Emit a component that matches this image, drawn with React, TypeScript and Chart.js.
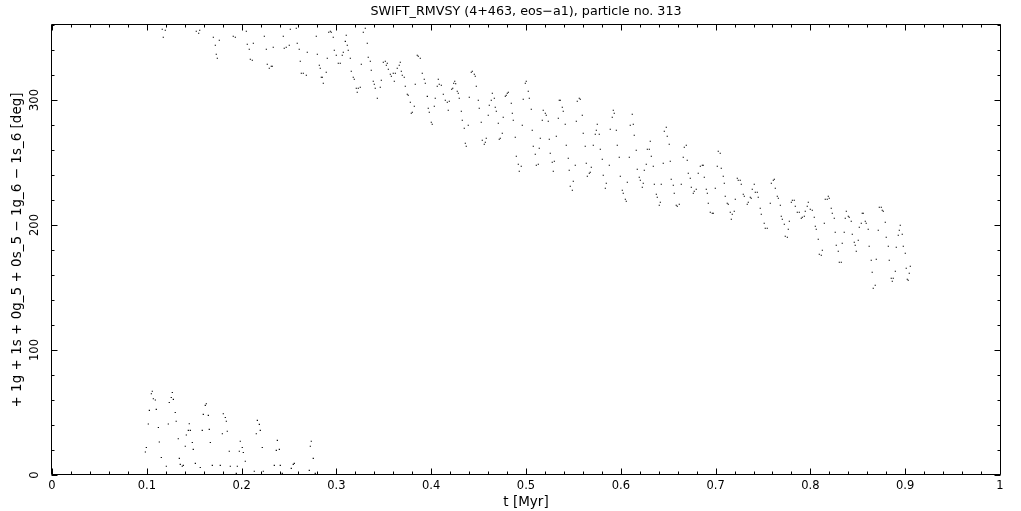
import React, { useEffect, useRef } from 'react';
import { Chart, registerables } from 'chart.js';

Chart.register(...registerables);

const chartTitle = 'SWIFT_RMVSY (4+463, eos\u2212a1), particle no. 313';
const xAxisTitle = 't [Myr]';
const yAxisTitle = '+ 1g + 1s + 0g_5 + 0s_5 \u2212 1g_6 \u2212 1s_6 [deg]';

const xTickValues = [0, 0.1, 0.2, 0.3, 0.4, 0.5, 0.6, 0.7, 0.8, 0.9, 1];
const xTickLabels = ['0', '0.1', '0.2', '0.3', '0.4', '0.5', '0.6', '0.7', '0.8', '0.9', '1'];
const yTickValues = [0, 100, 200, 300];
const yTickLabels = ['0', '100', '200', '300'];

// [t (Myr), angle (deg)] — part of the track that wrapped past 360 deg
const lowBand: [number, number][] = [
  [0.0985, 18.4], [0.0995, 22], [0.1016, 40.8], [0.1027, 51.7], [0.1048, 65], [0.1058, 67], [0.1069, 61], [0.109, 60],
  [0.11, 52.5], [0.1122, 38], [0.1132, 26.4], [0.1153, 14], [0.1206, 7], [0.1227, 40.8], [0.1237, 58], [0.1258, 62],
  [0.1269, 66], [0.128, 60.5], [0.13, 50], [0.131, 43], [0.1332, 29], [0.1343, 13.3], [0.1353, 8.5], [0.1374, 7],
  [0.1385, 7.7], [0.1406, 23], [0.1417, 32], [0.1438, 35.7], [0.1448, 41], [0.1459, 35.7], [0.148, 26], [0.149, 20.5],
  [0.1512, 9.3], [0.1564, 6], [0.1585, 35.7], [0.1596, 48.5], [0.1617, 55.7], [0.1628, 57], [0.1649, 47.7], [0.1659, 36.5],
  [0.167, 26], [0.1691, 7.7], [0.1775, 7.7], [0.1797, 33], [0.1807, 49], [0.1828, 46], [0.1839, 43], [0.1849, 35],
  [0.187, 19], [0.1881, 7], [0.1944, 1.3], [0.1955, 7], [0.1976, 19], [0.1986, 27], [0.2007, 22], [0.2018, 18],
  [0.2039, 11], [0.2134, 3], [0.2155, 33], [0.2166, 43.7], [0.2187, 40.5], [0.2197, 35.7], [0.2218, 22], [0.2229, 3],
  [0.2345, 7.7], [0.2366, 19.7], [0.2377, 27.7], [0.2398, 20.5], [0.2408, 7.7], [0.2429, 1.3], [0.2524, 5.3], [0.2545, 8.5],
  [0.2556, 9.3], [0.2714, 3.7], [0.2725, 23], [0.2735, 27], [0.2756, 13.3], [0.2777, 1.3],
];

// [t (Myr), angle (deg)] — main descending band
const highBandEarly: [number, number][] = [
  [0.1163, 356.6], [0.1174, 350.2], [0.1195, 355.8], [0.1522, 355], [0.1547, 353.4], [0.1558, 355.8],
  [0.1702, 350.2], [0.1723, 343.8], [0.1733, 336.6], [0.1744, 333.4], [0.1765, 347.8], [0.1912, 351], [0.1934, 350.2],
  [0.205, 355], [0.206, 344.6], [0.2081, 340.6], [0.2092, 332.6], [0.2113, 331.8], [0.2124, 345.4],
  [0.224, 351], [0.2261, 340.6], [0.2271, 328.6], [0.2292, 325.4], [0.2313, 327], [0.2324, 327], [0.2334, 342.2],
  [0.244, 351], [0.245, 341.4], [0.2471, 342.2], [0.2503, 343.8], [0.2514, 356.6],
  [0.2577, 357.4], [0.2587, 345.4], [0.2608, 340.6], [0.2619, 331], [0.263, 321.4], [0.2651, 321.4], [0.2683, 319.8], [0.2693, 338.2],
  [0.2788, 351], [0.2799, 336.6], [0.282, 327.8], [0.283, 325.4], [0.2841, 318.2], [0.2852, 318.2], [0.2862, 313.4],
  [0.2893, 322.2], [0.2904, 333.4], [0.2919, 354.2], [0.2936, 355], [0.2946, 354.2], [0.2967, 350.2], [0.2978, 339.8],
  [0.2999, 335.8], [0.302, 329.4], [0.3041, 329.4], [0.3062, 335.8], [0.3073, 338.2], [0.3094, 346.9], [0.3104, 351.8],
  [0.3115, 343.8], [0.3125, 339.8], [0.3147, 333.4], [0.3157, 323], [0.3178, 318.2], [0.3189, 316.6], [0.321, 309.4],
  [0.322, 306.2], [0.3231, 309.4], [0.3252, 310.2], [0.3263, 328.6], [0.3284, 354.2], [0.3305, 357.4], [0.3326, 345.4],
  [0.3336, 334.2], [0.3358, 331], [0.3368, 323.8], [0.3389, 315], [0.34, 312.6], [0.341, 309.4], [0.3432, 301.4],
  [0.3463, 310.2], [0.3474, 315.8], [0.3495, 330.2], [0.3516, 331], [0.3527, 327.8], [0.3537, 329.4], [0.3548, 324.6],
  [0.3569, 320.6], [0.358, 319], [0.36, 321.4], [0.3611, 315], [0.3622, 321.4], [0.3642, 325.4], [0.3663, 327.8],
  [0.3674, 330.2], [0.3685, 323], [0.3695, 319.8], [0.3716, 318.2], [0.3727, 311], [0.3748, 304.6], [0.3758, 303.8],
  [0.378, 298.2], [0.379, 289.4], [0.3801, 290.2], [0.3822, 295], [0.3832, 312.6], [0.3853, 335.8], [0.3864, 335],
  [0.3885, 333.4], [0.3906, 321.4], [0.3927, 316.6], [0.3938, 313.4], [0.3959, 302.9], [0.3969, 293.4], [0.398, 290.2],
  [0.4001, 282.2], [0.4011, 280.6], [0.4033, 295], [0.4043, 301.4], [0.4064, 311], [0.4075, 316.6], [0.4085, 312.6],
  [0.4107, 311.8], [0.4128, 304.6], [0.4149, 299.8], [0.417, 298.2], [0.418, 291.8], [0.4191, 299],
];

const highBandMiddle: [number, number][] = [
  [0.4216, 308.6], [0.4227, 309.4], [0.4237, 313.4], [0.4248, 315], [0.4258, 313], [0.4275, 307], [0.4286, 305.4],
  [0.4296, 301.4], [0.4318, 291], [0.4328, 283.8], [0.4349, 277.4], [0.436, 265.4], [0.437, 263], [0.4391, 279.8],
  [0.4402, 302.2], [0.4423, 322.2], [0.4434, 323], [0.4455, 320.6], [0.4465, 319], [0.4476, 311], [0.4497, 299.8],
  [0.4507, 293.4], [0.4528, 282.2], [0.4539, 267.8], [0.456, 264.6], [0.4571, 266.2], [0.4581, 269.4], [0.4602, 287.8],
  [0.4613, 295.8], [0.4634, 299.8], [0.4645, 305.4], [0.4666, 301.4], [0.4676, 294.2], [0.4687, 291], [0.4708, 281.4],
  [0.4718, 268.6], [0.4729, 269.4], [0.475, 273.4], [0.476, 286.2], [0.4782, 303], [0.4792, 303.8], [0.4803, 305.4],
  [0.4814, 306.2], [0.4845, 297.4], [0.4856, 289.4], [0.4866, 283.8], [0.4887, 270.2], [0.4898, 255], [0.4919, 248.6],
  [0.4929, 243], [0.495, 247], [0.4961, 279.8], [0.4971, 300.6], [0.4993, 313.4], [0.5003, 315], [0.5024, 307],
  [0.5035, 301.4], [0.5056, 292.6], [0.5066, 275.8], [0.5077, 263], [0.5098, 256.6], [0.5109, 247.8], [0.513, 248.6],
  [0.514, 261.4], [0.5151, 269.4], [0.5172, 283.8], [0.5182, 291.8], [0.5204, 289.4], [0.5214, 287.8], [0.5235, 283],
  [0.5246, 268.6], [0.5256, 257.4], [0.5277, 250.2], [0.5288, 243], [0.5299, 251], [0.532, 271], [0.5341, 285.4],
  [0.5351, 299.8], [0.5362, 299.8], [0.5383, 294.2], [0.5393, 291], [0.5414, 280.6], [0.5425, 263.8], [0.5446, 253.4],
  [0.5456, 243.8], [0.5467, 231], [0.5489, 227.8], [0.5499, 235], [0.552, 247.8], [0.5531, 283], [0.5541, 299],
  [0.5562, 301.4], [0.5573, 300.6], [0.5594, 287.8], [0.5604, 273.4], [0.5625, 263], [0.5636, 249.4], [0.5647, 239],
  [0.5668, 241.4], [0.5678, 242.2], [0.5689, 246.2], [0.571, 263.8], [0.5731, 272.6], [0.5742, 275.8], [0.5752, 280.6],
  [0.5773, 272.6], [0.5784, 260.6], [0.5805, 252.6], [0.5815, 239.8], [0.5837, 229.4], [0.5847, 233.4], [0.5879, 247.8],
  [0.5889, 276.6], [0.591, 286.2], [0.5921, 291.8], [0.5931, 289.4], [0.5953, 275.8], [0.5963, 263.8], [0.5984, 254.2],
  [0.5995, 239], [0.6016, 227.8], [0.6026, 225.4], [0.6048, 220.6], [0.6058, 219], [0.6069, 234.2], [0.609, 254.2],
  [0.61, 279.8], [0.6121, 288.6], [0.6132, 280.6], [0.6142, 271.8], [0.6163, 259.8], [0.6174, 244.6], [0.6195, 238.2],
  [0.6206, 235.8], [0.6227, 230.2], [0.6237, 233.4], [0.6248, 243.8], [0.6269, 248.6], [0.628, 260.6], [0.6301, 260.6],
  [0.6311, 267], [0.6322, 255], [0.6343, 247], [0.6354, 232.6], [0.6375, 224.6], [0.6385, 222.2], [0.6406, 215.8],
  [0.6417, 218.2], [0.6427, 232.6], [0.6448, 249.4], [0.6459, 275], [0.648, 278.2], [0.649, 271], [0.6511, 264.6],
  [0.6522, 251], [0.6532, 236.6], [0.6554, 231.8], [0.6564, 225.4], [0.6585, 215.8], [0.6596, 215], [0.6617, 216.6],
  [0.6638, 232.6], [0.6659, 254.2], [0.667, 262.2], [0.6691, 263.8], [0.6701, 251.8], [0.6712, 241.4], [0.6733, 237.4],
  [0.6744, 230.2], [0.6765, 225.4], [0.6775, 227], [0.6796, 228.6], [0.6817, 241.4],
];

const highBandLate: [number, number][] = [
  [0.6839, 247], [0.686, 247.8], [0.687, 247.8], [0.6881, 238.2], [0.6902, 228.6], [0.6913, 225.4], [0.6923, 217.4],
  [0.6944, 210.2], [0.6965, 209.4], [0.6976, 209.4], [0.6997, 229.4], [0.7018, 247], [0.7028, 259], [0.7049, 257.4],
  [0.706, 245.4], [0.7081, 239], [0.7092, 233.4], [0.7102, 223], [0.7123, 217.4], [0.7134, 216.6], [0.7155, 210.2],
  [0.7166, 204.6], [0.7176, 208.6], [0.7197, 211], [0.7208, 220.6], [0.7229, 237.4], [0.7239, 235.8], [0.726, 235.8],
  [0.7271, 232.6], [0.7292, 224.6], [0.7303, 223], [0.7334, 216.6], [0.7345, 218.2], [0.7366, 222.2], [0.7376, 221.4],
  [0.7387, 228.6], [0.7408, 232.6], [0.7419, 226.2], [0.744, 226.2], [0.745, 222.2], [0.7471, 213.4], [0.7482, 208.6],
  [0.7513, 201.4], [0.7524, 197.4], [0.7545, 197.4], [0.7577, 217.4], [0.7588, 233.4], [0.7609, 235.8], [0.762, 236.6],
  [0.763, 229.4], [0.7651, 223], [0.7662, 221.4], [0.7683, 215.8], [0.7693, 207], [0.7704, 204.6], [0.7725, 200.6],
  [0.7735, 191], [0.7757, 190.2], [0.7767, 196.6], [0.7778, 203], [0.7799, 218.2], [0.781, 219.8], [0.783, 219.8],
  [0.7841, 215], [0.7862, 210.2], [0.7883, 210.2], [0.7904, 205.4], [0.7915, 206.2], [0.7936, 207], [0.7946, 211],
  [0.7967, 215], [0.7978, 218.2], [0.7999, 212.6], [0.802, 211.8], [0.8041, 206.2], [0.8052, 199], [0.8062, 196.6],
  [0.8083, 188.6], [0.8094, 176.6], [0.8115, 175.8], [0.8126, 179.8], [0.8147, 201.4], [0.8157, 220.6], [0.8178, 220.6],
  [0.8189, 223], [0.8199, 221.4], [0.822, 213.4], [0.8231, 209.4], [0.8252, 205.4], [0.8262, 194.2], [0.8273, 183.8],
  [0.8294, 179], [0.8305, 170.2], [0.8326, 170.2], [0.8336, 185.4], [0.8357, 194.2], [0.8368, 205.4], [0.8379, 211],
  [0.84, 207], [0.841, 206.2], [0.8431, 203], [0.8442, 192.6], [0.8463, 186.2], [0.8473, 183.8], [0.8484, 179],
  [0.8505, 187.8], [0.8516, 198.2], [0.8537, 201.4], [0.8547, 209.4], [0.8558, 209.4], [0.8579, 203], [0.8589, 201.4],
  [0.861, 196.6], [0.862, 183], [0.8642, 171.8], [0.8652, 162.2], [0.8663, 149.4], [0.8684, 151.8], [0.8695, 172.6],
  [0.8716, 195.8], [0.8727, 214.2], [0.8748, 214.2], [0.8758, 211.8], [0.8769, 211], [0.879, 202.2], [0.88, 190.2],
  [0.8822, 183], [0.8832, 171.8], [0.8853, 157.4], [0.8864, 155], [0.8874, 157.4], [0.8896, 163], [0.8906, 182.2],
  [0.8927, 191.8], [0.8938, 195.8], [0.8948, 199.8], [0.8969, 192.6], [0.898, 183], [0.9001, 177.4], [0.9011, 165.4],
  [0.9022, 156.6], [0.9032, 155.8], [0.9043, 161.4], [0.9054, 167],
];

const FONT = 'DejaVu Sans';

const frameTicksPlugin = {
  id: 'frameTicks',
  afterDatasetsDraw(chart: any) {
    const { ctx, chartArea: a, scales } = chart;
    const xs = scales.x;
    const ys = scales.y;
    const L = Math.round(a.left) - 0.5;
    const R = Math.round(a.right) + 0.5;
    const T = Math.round(a.top) - 0.5;
    const B = Math.round(a.bottom) - 0.5;
    ctx.save();
    ctx.strokeStyle = '#000';
    ctx.lineWidth = 1;
    ctx.beginPath();
    ctx.rect(L, T, R - L, B - T);
    for (let i = 0; i <= 50; i++) {
      const px = Math.round(xs.getPixelForValue(i / 50)) + 0.5;
      const len = i % 5 === 0 ? 6 : 3;
      ctx.moveTo(px, B);
      ctx.lineTo(px, B - len);
      ctx.moveTo(px, T);
      ctx.lineTo(px, T + len);
    }
    for (let i = 0; i <= 18; i++) {
      const py = Math.round(ys.getPixelForValue(i * 20)) + 0.5;
      const len = (i * 20) % 100 === 0 ? 6 : 3;
      ctx.moveTo(L, py);
      ctx.lineTo(L + len, py);
      ctx.moveTo(R, py);
      ctx.lineTo(R - len, py);
    }
    ctx.stroke();
    ctx.restore();
  },
};

const toPoints = (arr: [number, number][]) => arr.map(([t, a]) => ({ x: t, y: a }));

export default function App() {
  const ref = useRef<HTMLCanvasElement>(null);

  useEffect(() => {
    if (!ref.current) return;
    const dotStyle = {
      pointStyle: 'rect' as const,
      pointRadius: 0.85,
      pointBorderWidth: 0,
      pointBackgroundColor: '#000',
      borderColor: '#000',
      showLine: false,
    };
    const chart = new Chart(ref.current, {
      type: 'scatter',
      data: {
        datasets: [
          { data: toPoints(lowBand), ...dotStyle },
          { data: toPoints(highBandEarly), ...dotStyle },
          { data: toPoints(highBandMiddle), ...dotStyle },
          { data: toPoints(highBandLate), ...dotStyle },
        ],
      },
      options: {
        animation: false,
        responsive: true,
        maintainAspectRatio: false,
        layout: { padding: { left: 0, right: 21, top: 0, bottom: 0 } },
        plugins: {
          legend: { display: false },
          tooltip: { enabled: false },
          title: {
            display: true,
            text: chartTitle,
            color: '#000',
            fullSize: false,
            font: { family: FONT, size: 12.7, weight: 'normal', lineHeight: 1.2 },
            padding: { top: 4, bottom: 5.76 },
          },
        },
        scales: {
          x: {
            type: 'linear',
            min: 0,
            max: 1,
            grid: { display: false, drawTicks: false },
            border: { display: false },
            afterBuildTicks: (s: any) => {
              s.ticks = xTickValues.map((v) => ({ value: v }));
            },
            afterFit: (s: any) => {
              s.height = 36;
            },
            ticks: {
              autoSkip: false,
              maxRotation: 0,
              padding: 4,
              color: '#000',
              font: { family: FONT, size: 11.5 },
              callback: (_v: any, i: number) => xTickLabels[i],
            },
            title: {
              display: true,
              text: xAxisTitle,
              color: '#000',
              font: { family: FONT, size: 13.5 },
              padding: { top: 0, bottom: 0 },
            },
          },
          y: {
            type: 'linear',
            min: 0,
            max: 360,
            grid: { display: false, drawTicks: false },
            border: { display: false },
            afterBuildTicks: (s: any) => {
              s.ticks = yTickValues.map((v) => ({ value: v }));
            },
            afterFit: (s: any) => {
              s.width = 52;
            },
            ticks: {
              autoSkip: false,
              minRotation: 90,
              maxRotation: 90,
              crossAlign: 'center',
              padding: 6,
              color: '#000',
              font: { family: FONT, size: 11.5 },
              callback: (_v: any, i: number) => yTickLabels[i],
            },
            title: {
              display: true,
              text: yAxisTitle,
              color: '#000',
              font: { family: FONT, size: 13.5 },
              padding: { top: 9, bottom: 0 },
            },
          },
        },
      },
      plugins: [frameTicksPlugin],
    } as any);
    return () => chart.destroy();
  }, []);

  return (
    <div style={{ position: 'fixed', left: 0, top: 0, width: 1021, height: 511, background: '#fff' }}>
      <canvas ref={ref} />
    </div>
  );
}
